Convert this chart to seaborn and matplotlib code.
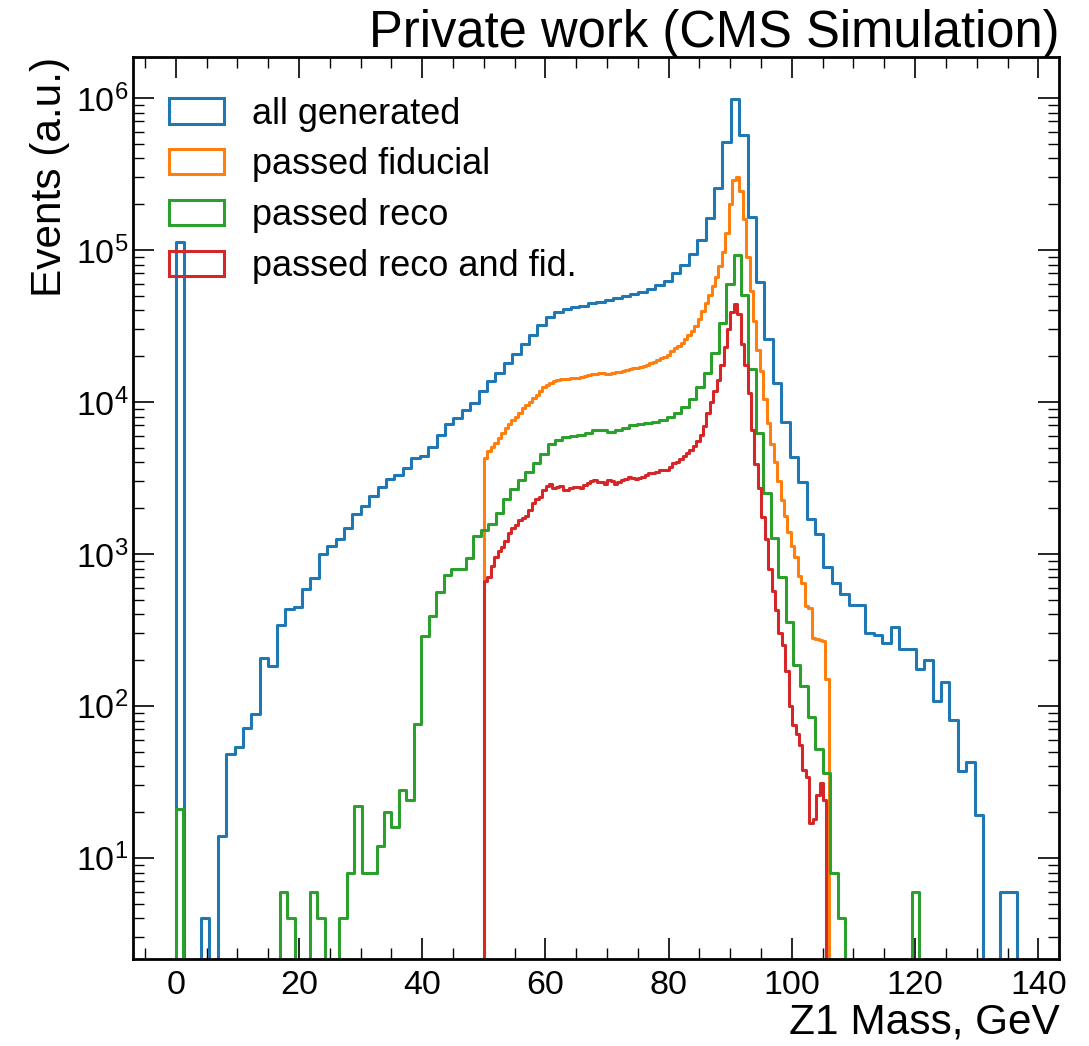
import numpy as np
import pandas as pd
import matplotlib
matplotlib.use("Agg")
import matplotlib.pyplot as plt
from matplotlib.patches import Patch
from matplotlib.ticker import MultipleLocator, LogLocator, NullFormatter
import seaborn as sns


# every sample is binned in 100 bins between its own min and max
GEN_RANGE = (0.0, 136.5)
RECO_RANGE = (0.0, 120.7)
FID_RANGE = (50.0, 106.0)
RECOFID_RANGE = (50.0, 105.6)

all_generated = [
    112000, 0, 0, 4, 0, 14, 48, 54, 71, 88,
    208, 184, 341, 435, 444, 586, 689, 991, 1130, 1250,
    1480, 1820, 2060, 2410, 2760, 3100, 3300, 3650, 4280, 4420,
    5060, 6040, 7130, 7780, 8820, 9850, 11750, 13700, 15600, 18100,
    20800, 23900, 27500, 32000, 36300, 38800, 40600, 42200, 42800, 44400,
    45500, 46700, 48000, 49500, 51000, 53000, 55500, 58500, 62200, 70000,
    79300, 93700, 117000, 162000, 257000, 509000, 980000, 569000, 165000, 61100,
    26100, 13300, 7360, 4350, 2970, 1700, 1350, 824, 646, 548,
    462, 459, 302, 292, 260, 331, 235, 235, 176, 200,
    108, 144, 81, 37, 43, 19, 0, 0, 6, 6,
]

passed_fiducial = [
    4300, 4750, 5080, 5400, 5750, 6200, 6700, 7200, 7600, 8000,
    8450, 9100, 9600, 10050, 10600, 11150, 11800, 12450, 12900, 13350,
    13700, 14000, 14150, 14250, 14200, 14300, 14400, 14450, 14600, 14800,
    14950, 15150, 15300, 15400, 15500, 15350, 15200, 15450, 15650, 15800,
    16000, 16150, 16350, 16600, 16800, 17050, 17300, 17550, 17900, 18300,
    18750, 19300, 19700, 20400, 21500, 22500, 23400, 24500, 25800, 27400,
    29200, 31600, 35000, 39500, 44500, 50500, 57500, 66500, 78000, 97000,
    130000, 200000, 290000, 300000, 245000, 160000, 90000, 54000, 34000, 22000,
    16000, 10500, 7300, 5300, 4000, 3000, 2250, 1780, 1400, 1130,
    960, 720, 640, 455, 440, 280, 275, 272, 268, 150,
]

passed_reco = [
    21, 0, 0, 0, 0, 0, 0, 0, 0, 0,
    0, 0, 0, 0, 6, 4, 0, 0, 6, 4,
    0, 0, 4, 8, 22, 8, 8, 12, 20, 16,
    28, 24, 76, 286, 390, 562, 724, 801, 801, 933,
    1306, 1445, 1567, 1845, 2313, 2654, 3055, 3466, 3935, 4575,
    5322, 5600, 5890, 5950, 6100, 6250, 6580, 6510, 6350, 6510,
    6780, 7030, 7100, 7210, 7390, 7580, 7970, 8390, 9280, 10520,
    12560, 15600, 21000, 33100, 60100, 92200, 50300, 16400, 6240, 2520,
    1265, 700, 356, 185, 135, 84, 52, 36, 8, 4,
    0, 0, 0, 0, 0, 0, 0, 0, 0, 6,
]

passed_reco_fid = [
    660, 700, 830, 950, 1040, 1110, 1220, 1380, 1470, 1560,
    1670, 1720, 1770, 1950, 2150, 2300, 2380, 2620, 2780, 2900,
    2700, 2750, 2780, 2650, 2620, 2720, 2770, 2740, 2730, 2850,
    2920, 3000, 3060, 2980, 2950, 2900, 3050, 3000, 2900, 2960,
    3060, 3100, 3210, 3180, 3130, 3170, 3220, 3280, 3380, 3420,
    3470, 3540, 3560, 3560, 3750, 3960, 4050, 4180, 4400, 4600,
    4800, 5150, 5500, 6100, 6900, 8500, 10000, 11800, 14000, 17500,
    23000, 30000, 39000, 44000, 38000, 24000, 17500, 11500, 6500, 3900,
    2700, 1750, 1250, 800, 570, 430, 300, 250, 170, 100,
    75, 65, 55, 38, 34, 17, 18, 26, 31, 24,
]

LABELS = ["all generated", "passed fiducial", "passed reco", "passed reco and fid."]
COLORS = ["#1f77b4", "#ff7f0e", "#2ca02c", "#d62728"]


def padded(counts, lo, hi):
    # one empty bin on each side so the outer edges are drawn down to the axis
    n = len(counts)
    w = (hi - lo) / n
    edges = np.linspace(lo - w, hi + w, n + 3)
    df = pd.DataFrame({
        "mass": 0.5 * (edges[:-1] + edges[1:]),
        "events": np.r_[0.0, np.asarray(counts, dtype=float), 0.0],
    })
    return df, edges.tolist()


sns.set_theme(style="ticks")
plt.rcParams.update({
    "font.family": ["Liberation Sans", "DejaVu Sans"],
    "mathtext.fontset": "custom",
    "mathtext.rm": "Liberation Sans",
    "mathtext.it": "Liberation Sans:italic",
    "mathtext.bf": "Liberation Sans:bold",
    "axes.edgecolor": "black",
    "axes.labelcolor": "black",
    "text.color": "black",
    "axes.linewidth": 2.0,
    "xtick.color": "black",
    "ytick.color": "black",
    "xtick.direction": "in",
    "ytick.direction": "in",
    "xtick.top": True,
    "ytick.right": True,
    "xtick.major.size": 15,
    "ytick.major.size": 15,
    "xtick.minor.size": 7.8,
    "ytick.minor.size": 7.8,
    "xtick.major.width": 1.2,
    "ytick.major.width": 1.2,
    "xtick.minor.width": 1.0,
    "ytick.minor.width": 1.0,
    "xtick.major.pad": 8,
    "ytick.major.pad": 3.5,
    "xtick.labelsize": 24.5,
    "ytick.labelsize": 24.5,
})

fig = plt.figure(figsize=(10.89, 10.46), dpi=100)
ax = fig.add_axes([0.1224, 0.0829, 0.8503, 0.8623])

samples = [
    (all_generated, GEN_RANGE),
    (passed_fiducial, FID_RANGE),
    (passed_reco, RECO_RANGE),
    (passed_reco_fid, RECOFID_RANGE),
]

for (counts, rng), color in zip(samples, COLORS):
    df, edges = padded(counts, *rng)
    sns.histplot(
        data=df, x="mass", weights="events", bins=edges,
        element="step", fill=False, color=color,
        linewidth=2.2, ax=ax
    )

ax.set_yscale("log")
ax.set_xlim(-6.9, 143.4)
ax.set_ylim(2.15, 1.85e6)

ax.xaxis.set_major_locator(MultipleLocator(20))
ax.xaxis.set_minor_locator(MultipleLocator(5))
ax.yaxis.set_major_locator(LogLocator(base=10, numticks=20))
ax.yaxis.set_minor_locator(LogLocator(base=10, subs=np.arange(2, 10), numticks=20))
ax.yaxis.set_minor_formatter(NullFormatter())
ax.tick_params(which="both", top=True, right=True)

ax.set_xlabel("Z1 Mass, GeV", loc="right", fontsize=30.5, labelpad=0.5)
ax.set_ylabel("Events (a.u.)", loc="top", fontsize=30.5, labelpad=4)

ax.text(1.0, 0.999, "Private work (CMS Simulation)", transform=ax.transAxes,
        ha="right", va="bottom", fontsize=36.5)

handles = [Patch(facecolor="none", edgecolor=c, linewidth=2.2) for c in COLORS]
ax.legend(handles, LABELS, loc="upper left", bbox_to_anchor=(0.0, 0.9965),
          frameon=False, fontsize=26, handlelength=1.5, borderaxespad=0.6,
          labelspacing=0.44)

fig.savefig("out.png", dpi=100)
